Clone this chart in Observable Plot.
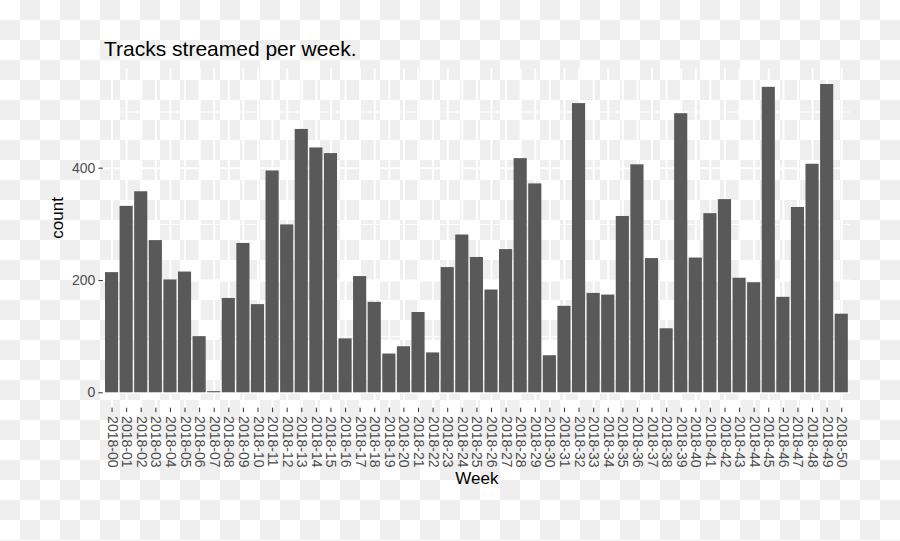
<!DOCTYPE html>
<html><head><meta charset="utf-8">
<script src="https://cdn.jsdelivr.net/npm/d3@7"></script>
<script src="https://cdn.jsdelivr.net/npm/@observablehq/plot@0.6"></script>
<style>
html,body{margin:0;padding:0;}
body{width:900px;height:541px;overflow:hidden;background:repeating-conic-gradient(#efefef 0 25%, #ffffff 0 50%) 0 0/40px 40px;font-family:"Liberation Sans",Arial,sans-serif;}
#wrap{position:relative;width:900px;height:541px;}
#title{position:absolute;left:104px;top:38px;font-size:21px;color:#000;line-height:1;white-space:nowrap;z-index:2;}
#wrap svg{position:absolute;left:0;top:0;background:transparent;}
</style></head><body>
<div id="wrap"><div id="title">Tracks streamed per week.</div></div>
<script>
const weeks = ["2018-00","2018-01","2018-02","2018-03","2018-04","2018-05","2018-06","2018-07","2018-08","2018-09",
  "2018-10","2018-11","2018-12","2018-13","2018-14","2018-15","2018-16","2018-17","2018-18","2018-19",
  "2018-20","2018-21","2018-22","2018-23","2018-24","2018-25","2018-26","2018-27","2018-28","2018-29",
  "2018-30","2018-31","2018-32","2018-33","2018-34","2018-35","2018-36","2018-37","2018-38","2018-39",
  "2018-40","2018-41","2018-42","2018-43","2018-44","2018-45","2018-46","2018-47","2018-48","2018-49","2018-50"];
const counts = [214,332,358,271,201,215,100,2,168,266,
  157,395,299,469,436,426,96,207,161,69,
  82,143,71,223,281,241,183,255,417,372,
  66,154,515,177,174,314,406,239,114,497,
  240,319,344,204,196,544,170,330,407,549,140];
const yMajorTicks = [0,200,400];
const yMinorTicks = [100,300,500];

const data = weeks.map((w,i)=>({week:w, count:counts[i]}));
const maxC = d3.max(counts);
const chart = Plot.plot({
  width:900, height:541,
  marginTop:68.6, marginBottom:133.3, marginLeft:102.8, marginRight:50,
  style:{background:"transparent", fontFamily:'"Liberation Sans", Arial, sans-serif', overflow:"visible"},
  x:{domain:weeks, paddingInner:0.1, paddingOuter:0.15, label:null},
  y:{domain:[-0.05*maxC, 1.05*maxC], label:null},
  marks:[
    Plot.gridY(yMinorTicks, {stroke:"#fff", strokeOpacity:1, strokeWidth:1}),
    Plot.gridY(yMajorTicks, {stroke:"#fff", strokeOpacity:1, strokeWidth:2}),
    Plot.gridX(weeks, {stroke:"#fff", strokeOpacity:1, strokeWidth:2}),
    Plot.barY(data, {x:"week", y1:0, y2:"count", fill:"#595959", inset:0}),
    Plot.axisY(yMajorTicks, {tickSize:4.4, tickPadding:3.5, fontSize:14, stroke:"#333", fill:"#4d4d4d", label:null}),
    Plot.axisX({tickSize:4.4, tickPadding:3.5, tickRotate:90, fontSize:14, stroke:"#333", fill:"#4d4d4d", label:null}),
    Plot.text(["count"], {frameAnchor:"left", rotate:-90, dx:-46, fontSize:17, fill:"#000"}),
    Plot.text(["Week"], {frameAnchor:"bottom", dy:76, fontSize:17, fill:"#000"})
  ]
});
document.getElementById("wrap").appendChild(chart);
</script>
</body></html>
